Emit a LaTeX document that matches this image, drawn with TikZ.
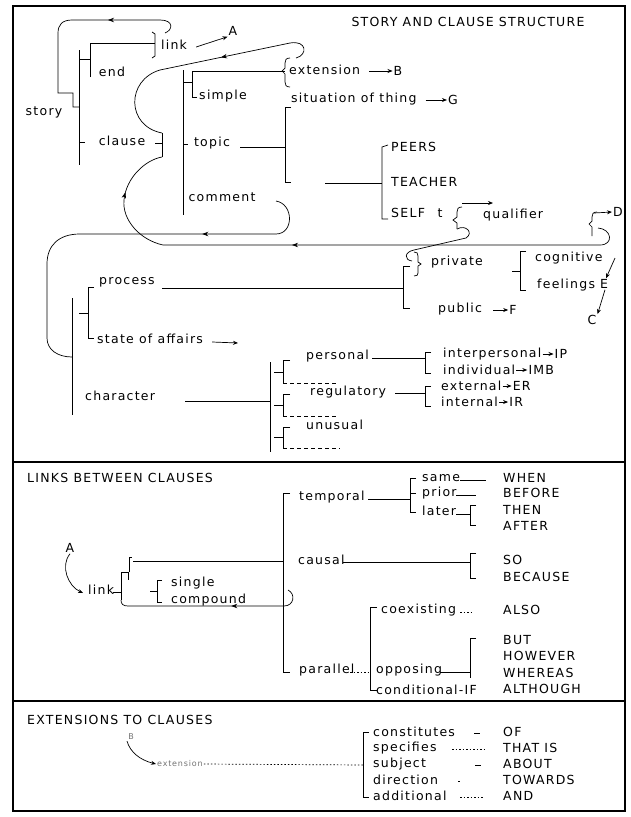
\documentclass[tikz,border=0pt]{standalone}
\usepackage{fontspec}
\setmainfont{DejaVu Sans}[LetterSpace=10]
\usetikzlibrary{
    arrows.meta,
    positioning,
    calc,
    decorations.markings
}
\tikzset{
    % --- Text label ---
    lbl/.style = {
        inner sep=1pt, font=\fontsize{12.5}{14}\selectfont
    },
    % --- Faint small label ---
    faint/.style = {
        inner sep=1pt, font=\fontsize{8}{9}\selectfont, text=black!55
    },
    % --- Bracket / tree line ---
    brk/.style = {
        line width=0.7pt
    },
    % --- Pointer arrow ---
    arr/.style = {
        -{Stealth[length=5pt,width=4pt]}, line width=0.7pt
    },
    % --- Dashed stub under a bracket ---
    stub/.style = {
        brk, dash pattern=on 4pt off 3pt
    },
    % --- Dotted leader ---
    leader/.style = {
        brk, dash pattern=on 1.5pt off 2pt
    },
    % --- Panel frame ---
    frame/.style = {
        line width=1.2pt
    },
    % --- Arrowhead sitting on a loop ---
    flow/.style = {
        postaction={decorate, decoration={markings,
            mark=at position #1 with {\arrow{Stealth[length=6pt,width=4.5pt]}}}}
    }
}

\begin{document}
\begin{tikzpicture}[x=1pt, y=-1pt, >=Stealth]
\useasboundingbox (0,0) rectangle (631,817);

% ---------------------------------------------------------
% Frame
% ---------------------------------------------------------
\draw[frame] (13,6) rectangle (625,811);
\draw[frame] (13,462) -- (625,462);
\draw[frame] (13,701) -- (625,701);

% ---------------------------------------------------------
% Story and clause structure
% ---------------------------------------------------------
\node[lbl] (title) at (468,22) {STORY AND CLAUSE STRUCTURE};

% story
\node[lbl] (story) at (44,112) {story};
\draw[brk] (79,50) -- (79,165);
\draw[brk, flow=0.33] (165,33) .. controls (173,30) and (174,20) .. (160,20)
    -- (72,20) .. controls (62,20) and (58,25) .. (58,33)
    -- (58,93) -- (73,93) -- (73,107) -- (79,107);

% end / link
\draw[brk] (79,59) -- (90,59);
\draw[brk] (90,77) -- (90,43) -- (155,43);
\draw[brk] (152,32) -- (155,34) -- (155,56) -- (152,58);
\node[lbl] (end) at (112,72) {end};
\node[lbl] (link) at (174,45) {link};
\node[lbl] (A) at (233,31) {A};
\draw[arr] ($(link.east)+(8,2)$) -- (A.south west);

% clause
\draw[brk] (79,142) -- (85,142);
\node[lbl] (clause) at (122,141) {clause};
\draw[brk] (155,143) -- (162,143);
\draw[brk] (162,133) -- (162,157);
\draw[brk, flow=0.4] (296,58) .. controls (308,55) and (307,40) .. (290,43)
    -- (160,70) .. controls (126,80) and (126,126) .. (162,133);
\draw[brk, flow=0.57, flow=0.91] (598,228) .. controls (612,229) and (614,245) .. (600,245)
    -- (163,245) .. controls (140,240) and (122,220) .. (124,200)
    .. controls (126,178) and (145,160) .. (162,157);

% inner clause bracket
\draw[brk] (183,70) -- (183,215);
\draw[brk] (183,82) -- (192,82);
\draw[brk] (197,97) -- (192,97) -- (192,71) -- (285,71);
\node[lbl] (simple) at (223,96) {simple};

% extension
\draw[brk] (290,58) .. controls (286,58) and (285,60) .. (285,63) -- (285,68)
    -- (282,71) -- (285,74) -- (285,82) .. controls (285,85) and (286,87) .. (290,87);
\node[lbl, anchor=west] (extension) at (288,70) {extension};
\node[lbl] (B) at (398,71) {B};
\draw[arr] ($(extension.east)+(8,1)$) -- (B.west);

% topic
\draw[brk] (183,144) -- (188,144);
\node[lbl] (topic) at (212,143) {topic};
\draw[brk] (240,147) -- (285,147);
\draw[brk] (291,107) -- (285,107) -- (285,182) -- (291,182);
\node[lbl, anchor=west] (situation) at (290,99) {situation of thing};
\node[lbl] (G) at (453,100) {G};
\draw[arr] ($(situation.east)+(8,1)$) -- (G.west);

% comment
\node[lbl] (comment) at (222,197) {comment};
\draw[brk, flow=0.3] (276,201) .. controls (294,204) and (294,234) .. (276,234)
    -- (80,234) .. controls (58,234) and (47,246) .. (47,264)
    -- (47,338) .. controls (47,350) and (58,357) .. (72,357);

% peers / teacher / self
\draw[brk] (325,183) -- (382,183);
\draw[brk] (388,145) -- (382,147) -- (382,219) -- (388,219);
\node[lbl, anchor=west] (peers) at (390,147) {PEERS};
\node[lbl, anchor=west] (teacher) at (390,182) {TEACHER};
\node[lbl, anchor=west] (self) at (390,213) {SELF};
\node[lbl] (t) at (440,213) {t};

% qualifier
\draw[brk] (462,207) .. controls (458,207) and (457,209) .. (457,212) -- (457,217)
    -- (453,220) -- (457,223) -- (457,229);
\coordinate (qualTip) at (493,203);
\draw[arr] (462,203) -- (qualTip);
\node[lbl, anchor=west] (qualifier) at (482,215) {qualifier};
\draw[brk] (457,229) .. controls (466,224) and (474,233) .. (466,238)
    -- (414,250) .. controls (404,252) and (404,260) .. (412,261);

% D
\draw[brk] (597,212) .. controls (593,212) and (592,214) .. (592,217) -- (592,221)
    -- (589,224) -- (592,227) -- (592,236);
\node[lbl] (D) at (618,212) {D};
\draw[arr] (594,213) -- (D.west);

% private / public
\draw[brk] (162,288) -- (403,288);
\draw[brk] (410,266) -- (403,266) -- (403,308) -- (410,308);
\draw[brk] (414,252) .. controls (417,252) and (418,253) .. (418,256) -- (418,262)
    -- (421,264) -- (418,266) -- (418,273) .. controls (418,275) and (417,276) .. (414,276);
\node[lbl, anchor=west] (private) at (430,262) {private};
\node[lbl, anchor=west] (public) at (437,309) {public};
\node[lbl] (F) at (513,310) {F};
\draw[arr] ($(public.east)+(10,1)$) -- (F.west);

% cognitive / feelings
\draw[brk] (512,271) -- (520,271);
\draw[brk] (526,251) -- (520,251) -- (520,290) -- (526,290);
\node[lbl, anchor=west] (cognitive) at (534,258) {cognitive};
\node[lbl, anchor=west] (feelings) at (536,285) {feelings};
\node[lbl] (E) at (604,284) {E};
\node[lbl] (C) at (592,320) {C};
\coordinate (cogTail) at (615,258);
\draw[arr] (cogTail) -- ([xshift=2pt]E.north);
\draw[arr] ([xshift=1pt]E.south) -- (C.north east);

% process / state of affairs / character
\draw[brk] (72,298) -- (72,415);
\draw[brk] (79,313) -- (88,313);
\draw[brk] (94,287) -- (88,287) -- (88,338) -- (94,338);
\node[lbl, anchor=west] (process) at (98,282) {process};
\node[lbl, anchor=west] (state) at (96,339) {state of affairs};
\coordinate (stateTip) at (238,343);
\draw[arr] ($(state.east)+(8,3)$) -- (stateTip);
\node[lbl, anchor=west] (character) at (84,396) {character};
\draw[brk] (185,401) -- (270,401);
\draw[brk] (270,362) -- (270,452);

% personal
\draw[brk] (274,372) -- (283,372);
\draw[brk] (290,360) -- (283,360) -- (283,383);
\draw[stub] (283,383) -- (338,383);
\node[lbl, anchor=west] (personal) at (305,356) {personal};
\draw[brk] (372,358) -- (425,358);
\draw[brk] (431,352) -- (425,352) -- (425,373) -- (431,373);
\node[lbl, anchor=west] (interpersonal) at (442,354) {interpersonal};
\node[lbl, right=11pt of interpersonal] (IP) {IP};
\draw[arr] (interpersonal) -- (IP);
\node[lbl, anchor=west] (individual) at (442,370) {individual};
\node[lbl, right=11pt of individual] (IMB) {IMB};
\draw[arr] (individual) -- (IMB);

% regulatory
\draw[brk] (274,405) -- (283,405);
\draw[brk] (290,394) -- (283,394) -- (283,416);
\draw[stub] (283,416) -- (338,416);
\node[lbl, anchor=west] (regulatory) at (309,392) {regulatory};
\draw[brk] (395,393) -- (425,393);
\draw[brk] (431,386) -- (425,386) -- (425,406) -- (431,406);
\node[lbl, anchor=west] (external) at (440,386) {external};
\node[lbl, right=9pt of external] (ER) {ER};
\draw[arr] (external) -- (ER);
\node[lbl, anchor=west] (internal) at (440,402) {internal};
\node[lbl, right=9pt of internal] (IR) {IR};
\draw[arr] (internal) -- (IR);

% unusual
\draw[brk] (274,437) -- (283,437);
\draw[brk] (290,427) -- (283,427) -- (283,448);
\draw[stub] (283,448) -- (340,448);
\node[lbl, anchor=west] (unusual) at (305,425) {unusual};

% ---------------------------------------------------------
% Links between clauses
% ---------------------------------------------------------
\node[lbl, anchor=west] (linksTitle) at (26,478) {LINKS BETWEEN CLAUSES};
\node[lbl] (A2) at (70,548) {A};
\coordinate (linkIn) at (83,593);
\draw[arr] (A2.south) .. controls (60,566) and (68,586) .. (linkIn);
\node[lbl, anchor=west] (link2) at (87,590) {link};
\draw[brk] (113,592) -- (121,592);
\draw[brk] (121,600) -- (121,572) -- (128,572) -- (128,580);
\draw[brk] (129,572) -- (129,557) -- (132,557);
\draw[brk] (133,561) -- (283,561);
\draw[brk, flow=0.4] (288,590) .. controls (296,594) and (294,606) .. (284,606)
    -- (128,606) .. controls (123,606) and (121,604) .. (121,600);

% single / compound
\draw[brk] (150,591) -- (157,591);
\draw[brk] (162,580) -- (157,580) -- (157,602) -- (162,602);
\node[lbl, anchor=west] (single) at (170,583) {single};
\node[lbl, anchor=west] (compound) at (170,600) {compound};

% main bracket
\draw[brk] (290,493) -- (283,493) -- (283,672) -- (290,672);

% temporal
\node[lbl, anchor=west] (temporal) at (298,497) {temporal};
\draw[brk] (368,499) -- (410,499);
\draw[brk] (416,478) -- (410,478) -- (410,512) -- (416,512);
\draw[brk] (410,493) -- (416,493);
\node[lbl, anchor=west] (same) at (421,478) {same};
\node[lbl, anchor=west] (prior) at (421,493) {prior};
\node[lbl, anchor=west] (later) at (421,511) {later};
\node[lbl, anchor=west] (WHEN) at (502,478) {WHEN};
\node[lbl, anchor=west] (BEFORE) at (502,493) {BEFORE};
\node[lbl, anchor=west] (THEN) at (502,510) {THEN};
\node[lbl, anchor=west] (AFTER) at (502,526) {AFTER};
\draw[brk] (460,480) -- (486,480);
\draw[brk] (456,495) -- (476,495);
\draw[brk] (456,514) -- (470,514);
\draw[brk] (476,505) -- (470,505) -- (470,525) -- (476,525);

% causal
\node[lbl, anchor=west] (causal) at (297,560) {causal};
\draw[brk] (343,562) -- (470,562);
\draw[brk] (476,553) -- (470,553) -- (470,578) -- (476,578);
\node[lbl, anchor=west] (SO) at (502,560) {SO};
\node[lbl, anchor=west] (BECAUSE) at (502,577) {BECAUSE};

% parallel
\draw[brk] (377,607) -- (370,607) -- (370,690) -- (377,690);
\node[lbl, anchor=west] (coexisting) at (380,610) {coexisting};
\draw[leader] (460,612) -- (472,612);
\node[lbl, anchor=west] (ALSO) at (502,610) {ALSO};
\node[lbl, anchor=west] (parallel) at (298,670) {parallel};
\draw[leader] (350,672) -- (368,672);
\node[lbl, anchor=west] (opposing) at (375,670) {opposing};
\draw[brk] (440,672) -- (470,672);
\draw[brk] (476,638) -- (470,638) -- (470,678);
\node[lbl, anchor=west] (BUT) at (502,640) {BUT};
\node[lbl, anchor=west] (HOWEVER) at (502,656) {HOWEVER};
\node[lbl, anchor=west] (WHEREAS) at (502,673) {WHEREAS};
\node[lbl, anchor=west] (ALTHOUGH) at (502,689) {ALTHOUGH};
\node[lbl, anchor=west] (conditional) at (375,690) {conditional-IF};

% ---------------------------------------------------------
% Extensions to clauses
% ---------------------------------------------------------
\node[lbl, anchor=west] (extTitle) at (26,720) {EXTENSIONS TO CLAUSES};
\node[faint] (B2) at (131,737) {B};
\node[faint, anchor=west] (extension2) at (156,764) {extension};
\draw[arr] (B2.south west) .. controls (130,752) and (140,760) .. (extension2.west);
\draw[leader] (extension2.east) -- (363,765);
\draw[brk] (369,732) -- (363,732) -- (363,797) -- (369,797);
\node[lbl, anchor=west] (constitutes) at (372,732) {constitutes};
\node[lbl, anchor=west] (specifies) at (372,748) {specifies};
\node[lbl, anchor=west] (subject) at (372,764) {subject};
\node[lbl, anchor=west] (direction) at (372,780) {direction};
\node[lbl, anchor=west] (additional) at (372,796) {additional};
\node[lbl, anchor=west] (OF) at (502,732) {OF};
\node[lbl, anchor=west] (THATIS) at (502,748) {THAT IS};
\node[lbl, anchor=west] (ABOUT) at (502,764) {ABOUT};
\node[lbl, anchor=west] (TOWARDS) at (502,780) {TOWARDS};
\node[lbl, anchor=west] (AND) at (502,796) {AND};
\draw[brk] (474,733) -- (480,733);
\draw[leader] (452,749) -- (484,749);
\draw[brk] (475,765) -- (481,765);
\draw[leader] (458,781) -- (461,781);
\draw[leader] (460,797) -- (484,797);

\end{tikzpicture}
\end{document}
